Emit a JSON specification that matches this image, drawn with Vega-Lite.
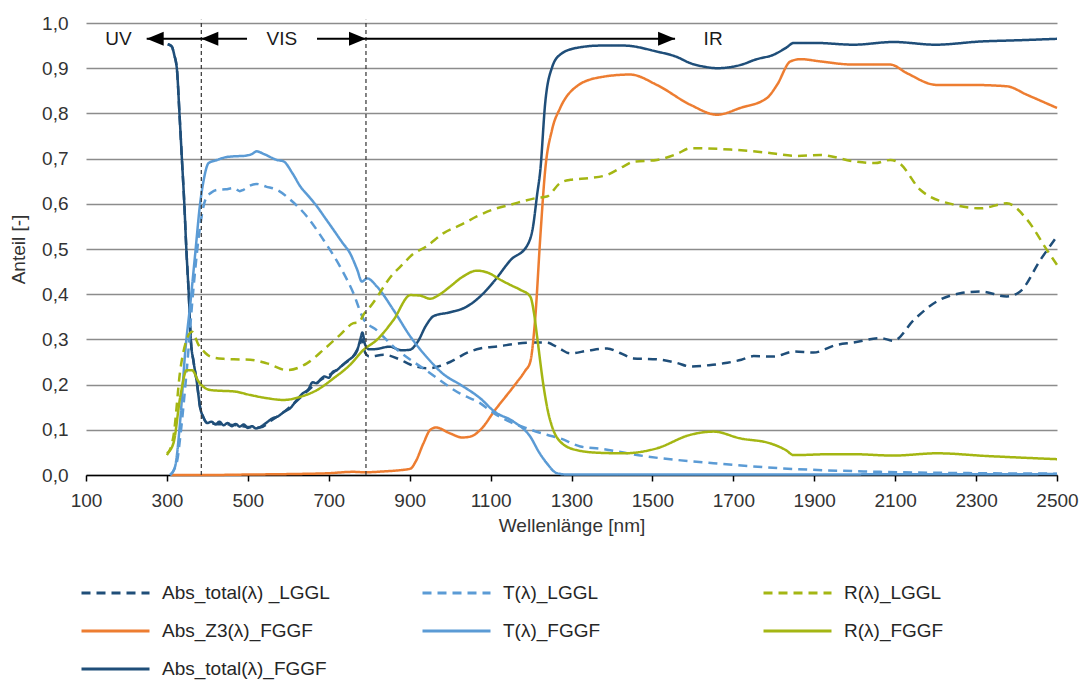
{
  "$schema": "https://vega.github.io/schema/vega-lite/v6.json",
  "autosize": {"type": "none"},
  "width": 971,
  "height": 452,
  "padding": {"left": 86, "top": 23, "right": 24, "bottom": 207},
  "background": "white",
  "config": {
    "view": {"stroke": null},
    "font": "Liberation Sans",
    "legend": {
      "orient": "none",
      "direction": "horizontal",
      "legendX": -6,
      "legendY": 560,
      "columns": 3,
      "gridAlign": "all",
      "symbolType": "stroke",
      "symbolSize": 4624,
      "symbolStrokeWidth": 3,
      "clipHeight": 20,
      "rowPadding": 18,
      "columnPadding": 91,
      "labelFont": "Liberation Sans",
      "labelFontSize": 19,
      "labelColor": "#262626",
      "labelOffset": 11,
      "labelLimit": 0,
      "padding": 0,
      "symbolOpacity": 1
    }
  },
  "layer": [
    {
      "data": {"values": [
        {"s":"aF","x":302,"v":0.953},{"s":"aF","x":312,"v":0.948},{"s":"aF","x":318,"v":0.93},{"s":"aF","x":325,"v":0.895},{"s":"aF","x":331,"v":0.8},{"s":"aF","x":337,"v":0.7},{"s":"aF","x":343,"v":0.6},{"s":"aF","x":348,"v":0.5},{"s":"aF","x":354,"v":0.4},{"s":"aF","x":359,"v":0.3},{"s":"aF","x":366,"v":0.25},{"s":"aF","x":374,"v":0.205},{"s":"aF","x":382,"v":0.15},{"s":"aF","x":390,"v":0.128},{"s":"aF","x":400,"v":0.115},{"s":"aF","x":410,"v":0.118},{"s":"aF","x":420,"v":0.112},{"s":"aF","x":430,"v":0.118},{"s":"aF","x":440,"v":0.11},{"s":"aF","x":450,"v":0.115},{"s":"aF","x":460,"v":0.108},{"s":"aF","x":470,"v":0.113},{"s":"aF","x":480,"v":0.107},{"s":"aF","x":490,"v":0.112},{"s":"aF","x":500,"v":0.104},{"s":"aF","x":510,"v":0.108},{"s":"aF","x":520,"v":0.103},{"s":"aF","x":530,"v":0.106},{"s":"aF","x":545,"v":0.115},{"s":"aF","x":560,"v":0.125},{"s":"aF","x":575,"v":0.13},{"s":"aF","x":590,"v":0.14},{"s":"aF","x":605,"v":0.148},{"s":"aF","x":620,"v":0.165},{"s":"aF","x":635,"v":0.18},{"s":"aF","x":650,"v":0.19},{"s":"aF","x":660,"v":0.205},{"s":"aF","x":670,"v":0.203},{"s":"aF","x":680,"v":0.212},{"s":"aF","x":690,"v":0.218},{"s":"aF","x":700,"v":0.215},{"s":"aF","x":710,"v":0.228},{"s":"aF","x":720,"v":0.232},{"s":"aF","x":730,"v":0.24},{"s":"aF","x":740,"v":0.248},{"s":"aF","x":750,"v":0.255},{"s":"aF","x":760,"v":0.262},{"s":"aF","x":770,"v":0.275},{"s":"aF","x":778,"v":0.3},{"s":"aF","x":783,"v":0.315},{"s":"aF","x":790,"v":0.288},{"s":"aF","x":800,"v":0.278},{"s":"aF","x":820,"v":0.279},{"s":"aF","x":850,"v":0.284},{"s":"aF","x":880,"v":0.276},{"s":"aF","x":900,"v":0.277},{"s":"aF","x":920,"v":0.295},{"s":"aF","x":940,"v":0.33},{"s":"aF","x":960,"v":0.352},{"s":"aF","x":1000,"v":0.36},{"s":"aF","x":1040,"v":0.372},{"s":"aF","x":1080,"v":0.4},{"s":"aF","x":1110,"v":0.43},{"s":"aF","x":1150,"v":0.476},{"s":"aF","x":1190,"v":0.507},{"s":"aF","x":1205,"v":0.55},{"s":"aF","x":1215,"v":0.62},{"s":"aF","x":1223,"v":0.675},{"s":"aF","x":1235,"v":0.823},{"s":"aF","x":1252,"v":0.902},{"s":"aF","x":1272,"v":0.93},{"s":"aF","x":1313,"v":0.945},{"s":"aF","x":1371,"v":0.95},{"s":"aF","x":1430,"v":0.95},{"s":"aF","x":1510,"v":0.937},{"s":"aF","x":1560,"v":0.925},{"s":"aF","x":1594,"v":0.911},{"s":"aF","x":1630,"v":0.903},{"s":"aF","x":1660,"v":0.9},{"s":"aF","x":1717,"v":0.907},{"s":"aF","x":1758,"v":0.92},{"s":"aF","x":1800,"v":0.93},{"s":"aF","x":1830,"v":0.945},{"s":"aF","x":1850,"v":0.956},{"s":"aF","x":1900,"v":0.956},{"s":"aF","x":1997,"v":0.952},{"s":"aF","x":2096,"v":0.958},{"s":"aF","x":2200,"v":0.952},{"s":"aF","x":2310,"v":0.959},{"s":"aF","x":2410,"v":0.962},{"s":"aF","x":2500,"v":0.965},
        {"s":"aL","x":302,"v":0.953},{"s":"aL","x":312,"v":0.948},{"s":"aL","x":318,"v":0.93},{"s":"aL","x":325,"v":0.895},{"s":"aL","x":331,"v":0.8},{"s":"aL","x":337,"v":0.7},{"s":"aL","x":343,"v":0.6},{"s":"aL","x":348,"v":0.5},{"s":"aL","x":354,"v":0.4},{"s":"aL","x":359,"v":0.3},{"s":"aL","x":366,"v":0.25},{"s":"aL","x":374,"v":0.205},{"s":"aL","x":382,"v":0.15},{"s":"aL","x":390,"v":0.128},{"s":"aL","x":400,"v":0.115},{"s":"aL","x":420,"v":0.113},{"s":"aL","x":450,"v":0.112},{"s":"aL","x":480,"v":0.109},{"s":"aL","x":500,"v":0.106},{"s":"aL","x":530,"v":0.105},{"s":"aL","x":560,"v":0.122},{"s":"aL","x":590,"v":0.14},{"s":"aL","x":620,"v":0.163},{"s":"aL","x":650,"v":0.188},{"s":"aL","x":680,"v":0.21},{"s":"aL","x":710,"v":0.226},{"s":"aL","x":740,"v":0.247},{"s":"aL","x":760,"v":0.262},{"s":"aL","x":775,"v":0.285},{"s":"aL","x":783,"v":0.3},{"s":"aL","x":790,"v":0.27},{"s":"aL","x":800,"v":0.262},{"s":"aL","x":836,"v":0.266},{"s":"aL","x":877,"v":0.255},{"s":"aL","x":900,"v":0.245},{"s":"aL","x":943,"v":0.236},{"s":"aL","x":1000,"v":0.25},{"s":"aL","x":1041,"v":0.27},{"s":"aL","x":1074,"v":0.28},{"s":"aL","x":1124,"v":0.285},{"s":"aL","x":1157,"v":0.29},{"s":"aL","x":1200,"v":0.293},{"s":"aL","x":1239,"v":0.293},{"s":"aL","x":1270,"v":0.28},{"s":"aL","x":1297,"v":0.269},{"s":"aL","x":1340,"v":0.275},{"s":"aL","x":1388,"v":0.28},{"s":"aL","x":1420,"v":0.27},{"s":"aL","x":1453,"v":0.258},{"s":"aL","x":1511,"v":0.256},{"s":"aL","x":1560,"v":0.248},{"s":"aL","x":1594,"v":0.24},{"s":"aL","x":1640,"v":0.243},{"s":"aL","x":1676,"v":0.247},{"s":"aL","x":1720,"v":0.255},{"s":"aL","x":1750,"v":0.263},{"s":"aL","x":1800,"v":0.262},{"s":"aL","x":1849,"v":0.273},{"s":"aL","x":1898,"v":0.271},{"s":"aL","x":1956,"v":0.288},{"s":"aL","x":1997,"v":0.293},{"s":"aL","x":2063,"v":0.303},{"s":"aL","x":2096,"v":0.297},{"s":"aL","x":2146,"v":0.343},{"s":"aL","x":2203,"v":0.384},{"s":"aL","x":2261,"v":0.402},{"s":"aL","x":2311,"v":0.406},{"s":"aL","x":2376,"v":0.395},{"s":"aL","x":2409,"v":0.406},{"s":"aL","x":2459,"v":0.476},{"s":"aL","x":2500,"v":0.528},
        {"s":"z3","x":310,"v":0.0},{"s":"z3","x":400,"v":0.0},{"s":"z3","x":500,"v":0.001},{"s":"z3","x":600,"v":0.002},{"s":"z3","x":700,"v":0.004},{"s":"z3","x":760,"v":0.007},{"s":"z3","x":790,"v":0.006},{"s":"z3","x":836,"v":0.008},{"s":"z3","x":880,"v":0.011},{"s":"z3","x":902,"v":0.014},{"s":"z3","x":915,"v":0.03},{"s":"z3","x":934,"v":0.07},{"s":"z3","x":951,"v":0.1},{"s":"z3","x":965,"v":0.105},{"s":"z3","x":1000,"v":0.092},{"s":"z3","x":1030,"v":0.083},{"s":"z3","x":1050,"v":0.085},{"s":"z3","x":1080,"v":0.105},{"s":"z3","x":1108,"v":0.14},{"s":"z3","x":1157,"v":0.196},{"s":"z3","x":1185,"v":0.23},{"s":"z3","x":1198,"v":0.25},{"s":"z3","x":1210,"v":0.343},{"s":"z3","x":1223,"v":0.528},{"s":"z3","x":1235,"v":0.675},{"s":"z3","x":1252,"v":0.764},{"s":"z3","x":1272,"v":0.812},{"s":"z3","x":1313,"v":0.86},{"s":"z3","x":1371,"v":0.88},{"s":"z3","x":1445,"v":0.886},{"s":"z3","x":1511,"v":0.863},{"s":"z3","x":1594,"v":0.819},{"s":"z3","x":1660,"v":0.797},{"s":"z3","x":1717,"v":0.812},{"s":"z3","x":1783,"v":0.834},{"s":"z3","x":1808,"v":0.863},{"s":"z3","x":1841,"v":0.915},{"s":"z3","x":1866,"v":0.92},{"s":"z3","x":1915,"v":0.915},{"s":"z3","x":1997,"v":0.908},{"s":"z3","x":2088,"v":0.908},{"s":"z3","x":2129,"v":0.889},{"s":"z3","x":2203,"v":0.863},{"s":"z3","x":2286,"v":0.863},{"s":"z3","x":2376,"v":0.86},{"s":"z3","x":2426,"v":0.841},{"s":"z3","x":2500,"v":0.812},
        {"s":"tF","x":308,"v":0.0},{"s":"tF","x":320,"v":0.018},{"s":"tF","x":333,"v":0.122},{"s":"tF","x":345,"v":0.27},{"s":"tF","x":358,"v":0.38},{"s":"tF","x":370,"v":0.49},{"s":"tF","x":382,"v":0.6},{"s":"tF","x":391,"v":0.653},{"s":"tF","x":403,"v":0.69},{"s":"tF","x":424,"v":0.697},{"s":"tF","x":445,"v":0.703},{"s":"tF","x":465,"v":0.705},{"s":"tF","x":490,"v":0.706},{"s":"tF","x":510,"v":0.71},{"s":"tF","x":522,"v":0.716},{"s":"tF","x":540,"v":0.71},{"s":"tF","x":572,"v":0.697},{"s":"tF","x":588,"v":0.694},{"s":"tF","x":610,"v":0.668},{"s":"tF","x":630,"v":0.638},{"s":"tF","x":650,"v":0.617},{"s":"tF","x":671,"v":0.594},{"s":"tF","x":690,"v":0.57},{"s":"tF","x":712,"v":0.542},{"s":"tF","x":733,"v":0.515},{"s":"tF","x":753,"v":0.49},{"s":"tF","x":770,"v":0.455},{"s":"tF","x":782,"v":0.428},{"s":"tF","x":795,"v":0.435},{"s":"tF","x":819,"v":0.417},{"s":"tF","x":860,"v":0.365},{"s":"tF","x":902,"v":0.306},{"s":"tF","x":943,"v":0.26},{"s":"tF","x":985,"v":0.222},{"s":"tF","x":1025,"v":0.2},{"s":"tF","x":1074,"v":0.17},{"s":"tF","x":1110,"v":0.14},{"s":"tF","x":1157,"v":0.118},{"s":"tF","x":1198,"v":0.085},{"s":"tF","x":1220,"v":0.05},{"s":"tF","x":1239,"v":0.026},{"s":"tF","x":1264,"v":0.004},{"s":"tF","x":1290,"v":0.001},{"s":"tF","x":1400,"v":0.001},{"s":"tF","x":2500,"v":0.002},
        {"s":"tL","x":308,"v":0.0},{"s":"tL","x":325,"v":0.03},{"s":"tL","x":333,"v":0.085},{"s":"tL","x":349,"v":0.232},{"s":"tL","x":366,"v":0.417},{"s":"tL","x":382,"v":0.55},{"s":"tL","x":395,"v":0.609},{"s":"tL","x":410,"v":0.625},{"s":"tL","x":424,"v":0.631},{"s":"tL","x":445,"v":0.632},{"s":"tL","x":465,"v":0.635},{"s":"tL","x":480,"v":0.628},{"s":"tL","x":489,"v":0.631},{"s":"tL","x":505,"v":0.64},{"s":"tL","x":522,"v":0.644},{"s":"tL","x":545,"v":0.638},{"s":"tL","x":572,"v":0.631},{"s":"tL","x":605,"v":0.609},{"s":"tL","x":646,"v":0.572},{"s":"tL","x":687,"v":0.52},{"s":"tL","x":728,"v":0.461},{"s":"tL","x":761,"v":0.402},{"s":"tL","x":786,"v":0.345},{"s":"tL","x":819,"v":0.32},{"s":"tL","x":860,"v":0.284},{"s":"tL","x":943,"v":0.23},{"s":"tL","x":1025,"v":0.18},{"s":"tL","x":1074,"v":0.159},{"s":"tL","x":1108,"v":0.137},{"s":"tL","x":1157,"v":0.114},{"s":"tL","x":1190,"v":0.103},{"s":"tL","x":1239,"v":0.089},{"s":"tL","x":1272,"v":0.081},{"s":"tL","x":1322,"v":0.063},{"s":"tL","x":1371,"v":0.058},{"s":"tL","x":1486,"v":0.041},{"s":"tL","x":1651,"v":0.026},{"s":"tL","x":1816,"v":0.015},{"s":"tL","x":2063,"v":0.007},{"s":"tL","x":2300,"v":0.004},{"s":"tL","x":2500,"v":0.003},
        {"s":"rF","x":300,"v":0.048},{"s":"rF","x":316,"v":0.07},{"s":"rF","x":333,"v":0.173},{"s":"rF","x":349,"v":0.232},{"s":"rF","x":362,"v":0.232},{"s":"rF","x":378,"v":0.207},{"s":"rF","x":395,"v":0.192},{"s":"rF","x":407,"v":0.188},{"s":"rF","x":440,"v":0.186},{"s":"rF","x":465,"v":0.185},{"s":"rF","x":506,"v":0.177},{"s":"rF","x":547,"v":0.17},{"s":"rF","x":588,"v":0.166},{"s":"rF","x":630,"v":0.173},{"s":"rF","x":671,"v":0.188},{"s":"rF","x":712,"v":0.214},{"s":"rF","x":753,"v":0.244},{"s":"rF","x":786,"v":0.277},{"s":"rF","x":819,"v":0.299},{"s":"rF","x":860,"v":0.343},{"s":"rF","x":902,"v":0.398},{"s":"rF","x":925,"v":0.397},{"s":"rF","x":951,"v":0.39},{"s":"rF","x":975,"v":0.4},{"s":"rF","x":1000,"v":0.417},{"s":"rF","x":1030,"v":0.438},{"s":"rF","x":1066,"v":0.452},{"s":"rF","x":1095,"v":0.447},{"s":"rF","x":1124,"v":0.432},{"s":"rF","x":1150,"v":0.42},{"s":"rF","x":1173,"v":0.41},{"s":"rF","x":1198,"v":0.395},{"s":"rF","x":1207,"v":0.36},{"s":"rF","x":1215,"v":0.306},{"s":"rF","x":1231,"v":0.196},{"s":"rF","x":1242,"v":0.14},{"s":"rF","x":1252,"v":0.107},{"s":"rF","x":1272,"v":0.074},{"s":"rF","x":1313,"v":0.055},{"s":"rF","x":1371,"v":0.049},{"s":"rF","x":1429,"v":0.048},{"s":"rF","x":1511,"v":0.059},{"s":"rF","x":1594,"v":0.089},{"s":"rF","x":1651,"v":0.096},{"s":"rF","x":1717,"v":0.081},{"s":"rF","x":1791,"v":0.07},{"s":"rF","x":1830,"v":0.055},{"s":"rF","x":1849,"v":0.044},{"s":"rF","x":1940,"v":0.046},{"s":"rF","x":1997,"v":0.046},{"s":"rF","x":2096,"v":0.043},{"s":"rF","x":2203,"v":0.048},{"s":"rF","x":2327,"v":0.042},{"s":"rF","x":2500,"v":0.035},
        {"s":"rL","x":300,"v":0.044},{"s":"rL","x":316,"v":0.085},{"s":"rL","x":333,"v":0.232},{"s":"rL","x":349,"v":0.3},{"s":"rL","x":362,"v":0.317},{"s":"rL","x":378,"v":0.288},{"s":"rL","x":395,"v":0.27},{"s":"rL","x":407,"v":0.262},{"s":"rL","x":440,"v":0.257},{"s":"rL","x":465,"v":0.256},{"s":"rL","x":506,"v":0.255},{"s":"rL","x":547,"v":0.247},{"s":"rL","x":597,"v":0.232},{"s":"rL","x":646,"v":0.247},{"s":"rL","x":687,"v":0.277},{"s":"rL","x":728,"v":0.31},{"s":"rL","x":761,"v":0.336},{"s":"rL","x":775,"v":0.338},{"s":"rL","x":786,"v":0.355},{"s":"rL","x":803,"v":0.373},{"s":"rL","x":860,"v":0.446},{"s":"rL","x":877,"v":0.461},{"s":"rL","x":910,"v":0.49},{"s":"rL","x":940,"v":0.505},{"s":"rL","x":984,"v":0.535},{"s":"rL","x":1030,"v":0.555},{"s":"rL","x":1066,"v":0.572},{"s":"rL","x":1108,"v":0.588},{"s":"rL","x":1149,"v":0.598},{"s":"rL","x":1215,"v":0.613},{"s":"rL","x":1239,"v":0.616},{"s":"rL","x":1272,"v":0.646},{"s":"rL","x":1297,"v":0.653},{"s":"rL","x":1346,"v":0.657},{"s":"rL","x":1388,"v":0.664},{"s":"rL","x":1429,"v":0.683},{"s":"rL","x":1453,"v":0.693},{"s":"rL","x":1511,"v":0.697},{"s":"rL","x":1560,"v":0.71},{"s":"rL","x":1594,"v":0.723},{"s":"rL","x":1693,"v":0.72},{"s":"rL","x":1775,"v":0.714},{"s":"rL","x":1857,"v":0.706},{"s":"rL","x":1915,"v":0.708},{"s":"rL","x":1997,"v":0.694},{"s":"rL","x":2050,"v":0.69},{"s":"rL","x":2088,"v":0.697},{"s":"rL","x":2110,"v":0.69},{"s":"rL","x":2162,"v":0.631},{"s":"rL","x":2245,"v":0.598},{"s":"rL","x":2311,"v":0.59},{"s":"rL","x":2376,"v":0.601},{"s":"rL","x":2426,"v":0.565},{"s":"rL","x":2475,"v":0.498},{"s":"rL","x":2500,"v":0.465}
      ]},
      "mark": {"type": "line", "strokeWidth": 2.5, "interpolate": "monotone"},
      "encoding": {
        "x": {
          "field": "x", "type": "quantitative",
          "scale": {"domain": [100, 2500], "nice": false, "zero": false},
          "axis": {
            "values": [100, 300, 500, 700, 900, 1100, 1300, 1500, 1700, 1900, 2100, 2300, 2500],
            "format": "d",
            "title": "Wellenlänge [nm]",
            "grid": false,
            "domainColor": "#000000", "domainWidth": 1.5,
            "tickColor": "#000000", "tickWidth": 1.5, "tickSize": 6,
            "labelFont": "Liberation Sans", "labelFontSize": 19, "labelColor": "#333333", "labelPadding": 10, "labelFlush": false,
            "titleFont": "Liberation Sans", "titleFontSize": 19, "titleFontWeight": "normal", "titleColor": "#333333", "titlePadding": 6
          }
        },
        "y": {
          "field": "v", "type": "quantitative",
          "scale": {"domain": [0, 1], "nice": false},
          "axis": {
            "values": [0, 0.1, 0.2, 0.3, 0.4, 0.5, 0.6, 0.7, 0.8, 0.9, 1.0],
            "labelExpr": "replace(format(datum.value, '.1f'), '.', ',')",
            "title": "Anteil [-]",
            "grid": true, "gridColor": "#8c8c8c", "gridWidth": 1.5,
            "domain": false, "ticks": false, "tickSize": 0,
            "labelFont": "Liberation Sans", "labelFontSize": 19, "labelColor": "#333333", "labelPadding": 18,
            "titleFont": "Liberation Sans", "titleFontSize": 19, "titleFontWeight": "normal", "titleColor": "#333333", "titlePadding": 13
          }
        },
        "color": {
          "field": "s", "type": "nominal",
          "scale": {
            "domain": ["aL", "tL", "rL", "z3", "tF", "rF", "aF"],
            "range": ["#1F4E79", "#5B9BD5", "#A4B613", "#ED7D31", "#5B9BD5", "#A4B613", "#1F4E79"]
          },
          "legend": {
            "title": null,
            "direction": "horizontal",
            "values": ["aL", "tL", "rL", "z3", "tF", "rF", "aF"],
            "labelExpr": "datum.label == 'aL' ? 'Abs_total(λ) _LGGL' : datum.label == 'tL' ? 'T(λ)_LGGL' : datum.label == 'rL' ? 'R(λ)_LGGL' : datum.label == 'z3' ? 'Abs_Z3(λ)_FGGF' : datum.label == 'tF' ? 'T(λ)_FGGF' : datum.label == 'rF' ? 'R(λ)_FGGF' : 'Abs_total(λ)_FGGF'"
          }
        },
        "strokeDash": {
          "field": "s", "type": "nominal",
          "scale": {
            "domain": ["aL", "tL", "rL", "z3", "tF", "rF", "aF"],
            "range": [[9, 6], [9, 6], [9, 6], [1, 0], [1, 0], [1, 0], [1, 0]]
          },
          "legend": {
            "title": null,
            "direction": "horizontal",
            "values": ["aL", "tL", "rL", "z3", "tF", "rF", "aF"],
            "labelExpr": "datum.label == 'aL' ? 'Abs_total(λ) _LGGL' : datum.label == 'tL' ? 'T(λ)_LGGL' : datum.label == 'rL' ? 'R(λ)_LGGL' : datum.label == 'z3' ? 'Abs_Z3(λ)_FGGF' : datum.label == 'tF' ? 'T(λ)_FGGF' : datum.label == 'rF' ? 'R(λ)_FGGF' : 'Abs_total(λ)_FGGF'"
          }
        }
      }
    },
    {
      "data": {"values": [{"x": 385}, {"x": 792}]},
      "mark": {"type": "rule", "color": "#333333", "strokeWidth": 1.2, "strokeDash": [4, 3]},
      "encoding": {
        "x": {"field": "x", "type": "quantitative"},
        "y": {"datum": 0},
        "y2": {"datum": 1.007}
      }
    },
    {
      "data": {"values": [
        {"x": 250, "x2": 385, "y": 0.965},
        {"x": 385, "x2": 498, "y": 0.965},
        {"x": 671, "x2": 792, "y": 0.965},
        {"x": 792, "x2": 1556, "y": 0.965}
      ]},
      "mark": {"type": "rule", "color": "#000000", "strokeWidth": 2},
      "encoding": {
        "x": {"field": "x", "type": "quantitative"},
        "x2": {"field": "x2"},
        "y": {"field": "y", "type": "quantitative"}
      }
    },
    {
      "data": {"values": [
        {"x": 250, "y": 0.965, "d": "l"},
        {"x": 385, "y": 0.965, "d": "l"},
        {"x": 792, "y": 0.965, "d": "r"},
        {"x": 1556, "y": 0.965, "d": "r"}
      ]},
      "mark": {"type": "point", "filled": true, "color": "#000000", "opacity": 1, "size": 289, "strokeWidth": 0},
      "encoding": {
        "x": {"field": "x", "type": "quantitative"},
        "y": {"field": "y", "type": "quantitative"},
        "shape": {
          "field": "d", "type": "nominal",
          "scale": {"domain": ["l", "r"], "range": ["M0,0L2,-0.82L2,0.82Z", "M0,0L-2,-0.82L-2,0.82Z"]},
          "legend": null
        }
      }
    },
    {
      "data": {"values": [
        {"x": 180, "y": 0.965, "t": "UV"},
        {"x": 584, "y": 0.965, "t": "VIS"},
        {"x": 1650, "y": 0.965, "t": "IR"}
      ]},
      "mark": {"type": "text", "font": "Liberation Sans", "fontSize": 19, "color": "#1a1a1a", "align": "center", "baseline": "middle"},
      "encoding": {
        "x": {"field": "x", "type": "quantitative"},
        "y": {"field": "y", "type": "quantitative"},
        "text": {"field": "t"}
      }
    }
  ]
}
